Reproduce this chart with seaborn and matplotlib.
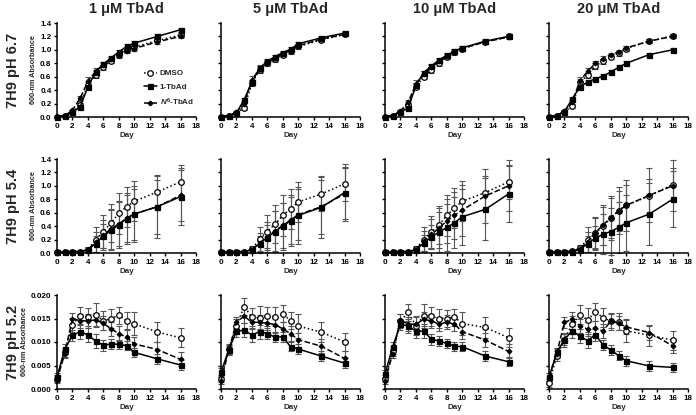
import numpy as np
import pandas as pd
import matplotlib
matplotlib.use("Agg")
import matplotlib.pyplot as plt
import seaborn as sns

# ---------------- data ----------------
days = [0, 1, 2, 3, 4, 5, 6, 7, 8, 9, 10, 13, 16]
concentrations = ["1 μM TbAd", "5 μM TbAd", "10 μM TbAd", "20 μM TbAd"]
media = ["7H9 pH 6.7", "7H9 pH 5.4", "7H9 pH 5.2"]
series_names = ["DMSO", "1-TbAd", "$N^{6}$-TbAd"]

# pH 6.7  (one list per concentration)
dmso_ph67 = [
    [0, 0.02, 0.07, 0.18, 0.48, 0.62, 0.74, 0.84, 0.92, 1.00, 1.04, 1.14, 1.22],
    [0, 0.02, 0.06, 0.14, 0.50, 0.70, 0.80, 0.86, 0.93, 0.98, 1.05, 1.15, 1.23],
    [0, 0.02, 0.08, 0.18, 0.45, 0.60, 0.70, 0.80, 0.90, 0.97, 1.02, 1.12, 1.20],
    [0, 0.02, 0.08, 0.16, 0.52, 0.62, 0.76, 0.83, 0.90, 0.95, 1.02, 1.13, 1.21],
]
tbad_ph67 = [
    [0, 0.02, 0.07, 0.15, 0.45, 0.67, 0.79, 0.88, 0.97, 1.05, 1.10, 1.20, 1.30],
    [0, 0.02, 0.06, 0.26, 0.52, 0.73, 0.83, 0.90, 0.96, 1.01, 1.09, 1.18, 1.25],
    [0, 0.02, 0.08, 0.13, 0.47, 0.66, 0.76, 0.85, 0.92, 0.98, 1.03, 1.13, 1.20],
    [0, 0.02, 0.08, 0.27, 0.45, 0.52, 0.57, 0.61, 0.67, 0.74, 0.80, 0.93, 1.00],
]
n6_ph67 = [
    [0, 0.02, 0.10, 0.28, 0.53, 0.68, 0.78, 0.86, 0.93, 0.98, 1.02, 1.12, 1.20],
    [0, 0.02, 0.07, 0.20, 0.55, 0.72, 0.81, 0.88, 0.94, 0.99, 1.06, 1.16, 1.23],
    [0, 0.02, 0.09, 0.22, 0.49, 0.64, 0.74, 0.83, 0.91, 0.97, 1.02, 1.12, 1.19],
    [0, 0.02, 0.09, 0.22, 0.54, 0.68, 0.80, 0.87, 0.93, 0.97, 1.03, 1.13, 1.20],
]

# pH 5.4
dmso_ph54 = [
    [0.01, 0.01, 0.02, 0.02, 0.05, 0.20, 0.32, 0.45, 0.59, 0.69, 0.77, 0.91, 1.06],
    [0.01, 0.01, 0.02, 0.02, 0.06, 0.21, 0.32, 0.43, 0.56, 0.66, 0.76, 0.88, 1.03],
    [0.01, 0.01, 0.02, 0.02, 0.06, 0.20, 0.31, 0.42, 0.56, 0.67, 0.77, 0.90, 1.06],
    [0.01, 0.01, 0.02, 0.03, 0.08, 0.20, 0.30, 0.40, 0.52, 0.63, 0.71, 0.85, 1.02],
]
tbad_ph54 = [
    [0.01, 0.01, 0.02, 0.02, 0.05, 0.14, 0.25, 0.34, 0.42, 0.51, 0.58, 0.69, 0.84],
    [0.01, 0.01, 0.02, 0.02, 0.05, 0.14, 0.23, 0.32, 0.40, 0.48, 0.56, 0.68, 0.90],
    [0.01, 0.01, 0.02, 0.02, 0.04, 0.15, 0.24, 0.31, 0.38, 0.45, 0.54, 0.65, 0.88],
    [0.01, 0.01, 0.02, 0.02, 0.05, 0.14, 0.22, 0.28, 0.32, 0.38, 0.45, 0.58, 0.80],
]
n6_ph54 = [
    [0.01, 0.01, 0.02, 0.02, 0.05, 0.16, 0.27, 0.36, 0.43, 0.52, 0.58, 0.69, 0.86],
    [0.01, 0.01, 0.02, 0.02, 0.05, 0.15, 0.24, 0.33, 0.41, 0.49, 0.57, 0.69, 0.88],
    [0.01, 0.01, 0.02, 0.02, 0.05, 0.18, 0.28, 0.37, 0.48, 0.56, 0.64, 0.85, 1.00],
    [0.01, 0.01, 0.02, 0.03, 0.06, 0.17, 0.30, 0.42, 0.52, 0.63, 0.71, 0.86, 1.00],
]

# pH 5.2
dmso_ph52 = [
    [0.0022, 0.0078, 0.0137, 0.0156, 0.0153, 0.0158, 0.0145, 0.0150, 0.0157, 0.0145, 0.0139, 0.0121, 0.0109],
    [0.0022, 0.0085, 0.0135, 0.0175, 0.0153, 0.0151, 0.0155, 0.0154, 0.0160, 0.0145, 0.0134, 0.0121, 0.0100],
    [0.0022, 0.0080, 0.0145, 0.0163, 0.0135, 0.0155, 0.0155, 0.0150, 0.0150, 0.0153, 0.0139, 0.0131, 0.0109],
    [0.0013, 0.0070, 0.0105, 0.0138, 0.0158, 0.0147, 0.0164, 0.0152, 0.0144, 0.0143, 0.0124, 0.0114, 0.0104],
]
tbad_ph52 = [
    [0.0025, 0.0085, 0.0114, 0.0122, 0.0115, 0.0102, 0.0093, 0.0096, 0.0095, 0.0092, 0.0078, 0.0064, 0.0051],
    [0.0036, 0.0083, 0.0123, 0.0125, 0.0115, 0.0122, 0.0118, 0.0110, 0.0111, 0.0090, 0.0085, 0.0070, 0.0055],
    [0.0032, 0.0090, 0.0138, 0.0134, 0.0123, 0.0123, 0.0106, 0.0102, 0.0097, 0.0091, 0.0090, 0.0070, 0.0058],
    [0.0025, 0.0078, 0.0105, 0.0124, 0.0112, 0.0103, 0.0115, 0.0094, 0.0083, 0.0071, 0.0060, 0.0049, 0.0046],
]
n6_ph52 = [
    [0.0020, 0.0075, 0.0150, 0.0145, 0.0145, 0.0147, 0.0140, 0.0128, 0.0118, 0.0110, 0.0096, 0.0084, 0.0063],
    [0.0018, 0.0082, 0.0142, 0.0155, 0.0142, 0.0142, 0.0140, 0.0137, 0.0128, 0.0118, 0.0105, 0.0091, 0.0065],
    [0.0018, 0.0075, 0.0147, 0.0138, 0.0138, 0.0148, 0.0145, 0.0138, 0.0142, 0.0138, 0.0122, 0.0104, 0.0080],
    [0.0025, 0.0075, 0.0142, 0.0148, 0.0135, 0.0127, 0.0130, 0.0123, 0.0145, 0.0140, 0.0132, 0.0120, 0.0092],
]

# error bars (SD), one list per medium and series
err_dmso_ph67 = [0, 0.005, 0.01, 0.03, 0.04, 0.04, 0.04, 0.04, 0.04, 0.04, 0.04, 0.03, 0.03]
err_tbad_ph67 = [0, 0.005, 0.01, 0.02, 0.03, 0.03, 0.03, 0.03, 0.03, 0.03, 0.03, 0.03, 0.03]
err_n6_ph67 = [0, 0.005, 0.01, 0.04, 0.06, 0.05, 0.04, 0.04, 0.03, 0.03, 0.03, 0.03, 0.03]
err_dmso_ph54 = [0.005, 0.005, 0.005, 0.01, 0.04, 0.18, 0.24, 0.28, 0.30, 0.30, 0.30, 0.25, 0.25]
err_tbad_ph54 = [0.005, 0.005, 0.005, 0.01, 0.03, 0.12, 0.18, 0.30, 0.35, 0.38, 0.42, 0.46, 0.42]
err_n6_ph54 = [0.005, 0.005, 0.005, 0.01, 0.04, 0.15, 0.22, 0.30, 0.33, 0.35, 0.38, 0.40, 0.38]
err_dmso_ph52 = [0.0008, 0.001, 0.0015, 0.0018, 0.002, 0.0025, 0.002, 0.002, 0.0018, 0.0018, 0.0025, 0.0022, 0.002]
err_tbad_ph52 = [0.0008, 0.001, 0.0012, 0.0015, 0.0015, 0.0015, 0.0012, 0.001, 0.001, 0.001, 0.001, 0.001, 0.001]
err_n6_ph52 = [0.0008, 0.001, 0.0012, 0.0015, 0.0015, 0.0015, 0.0015, 0.0015, 0.0015, 0.0015, 0.0015, 0.0015, 0.0015]

x_ticks = list(range(0, 19, 2))
y_ticks_main = [0.0, 0.2, 0.4, 0.6, 0.8, 1.0, 1.2, 1.4]
y_ticks_low = [0.000, 0.005, 0.010, 0.015, 0.020]

# ---------------- style ----------------
sns.set_theme(style="ticks")
plt.rcParams["font.family"] = ["Liberation Sans", "DejaVu Sans"]
plt.rcParams["font.weight"] = "bold"
plt.rcParams["mathtext.fontset"] = "custom"
plt.rcParams["mathtext.rm"] = "Liberation Sans:bold"
plt.rcParams["mathtext.it"] = "Liberation Sans:italic:bold"
plt.rcParams["mathtext.bf"] = "Liberation Sans:bold"

W, H = 696, 415
fig = plt.figure(figsize=(W / 100, H / 100), dpi=100)

col_left_px = [57, 221, 385, 549]
ax_w_px = 139
row_top_px = [23, 159, 295]
ax_h_px = 94

rows_data = [
    (dmso_ph67, tbad_ph67, n6_ph67, err_dmso_ph67, err_tbad_ph67, err_n6_ph67),
    (dmso_ph54, tbad_ph54, n6_ph54, err_dmso_ph54, err_tbad_ph54, err_n6_ph54),
    (dmso_ph52, tbad_ph52, n6_ph52, err_dmso_ph52, err_tbad_ph52, err_n6_ph52),
]

series_style = [
    dict(marker="o", markerfacecolor="white", markersize=4.0, linestyle=":"),
    dict(marker="s", markerfacecolor="black", markersize=3.6, linestyle="-"),
    dict(marker="D", markerfacecolor="black", markersize=2.4, linestyle="--"),
]

for r in range(3):
    dmso, tbad, n6, e_d, e_t, e_n = rows_data[r]
    for c in range(4):
        left = col_left_px[c] / W
        bottom = 1 - (row_top_px[r] + ax_h_px) / H
        ax = fig.add_axes([left, bottom, ax_w_px / W, ax_h_px / H])
        vals = [dmso[c], tbad[c], n6[c]]
        errs = [e_d, e_t, e_n]
        for s in range(3):
            df = pd.DataFrame({"Day": days, "Absorbance": vals[s]})
            ax.errorbar(df["Day"], df["Absorbance"], yerr=errs[s], fmt="none",
                        ecolor="#555555", elinewidth=0.8, capsize=2.0,
                        capthick=0.8, zorder=1, clip_on=False)
            st = series_style[s]
            sns.lineplot(data=df, x="Day", y="Absorbance", ax=ax, color="black",
                         marker=st["marker"], markerfacecolor=st["markerfacecolor"],
                         markeredgecolor="black", markeredgewidth=0.9,
                         markersize=st["markersize"], linestyle=st["linestyle"],
                         linewidth=1.1, label=series_names[s], legend=False,
                         errorbar=None, zorder=3, clip_on=False)
        ax.set_xlim(0, 18)
        ax.set_xticks(x_ticks)
        if r < 2:
            ax.set_ylim(0, 1.4)
            ax.set_yticks(y_ticks_main)
            ax.yaxis.set_major_formatter(matplotlib.ticker.FormatStrFormatter("%.1f"))
        else:
            ax.set_ylim(0, 0.020)
            ax.set_yticks(y_ticks_low)
            ax.yaxis.set_major_formatter(matplotlib.ticker.FormatStrFormatter("%.3f"))
        if c > 0:
            ax.set_yticklabels([])
            ax.set_ylabel("")
        else:
            ax.set_ylabel("600-nm Absorbance", fontsize=5.2, fontweight="bold", labelpad=2)
        ax.set_xlabel("Day", fontsize=5.8, fontweight="bold", labelpad=2)
        for sp in ["top", "right"]:
            ax.spines[sp].set_visible(False)
        for sp in ["left", "bottom"]:
            ax.spines[sp].set_linewidth(1.1)
            ax.spines[sp].set_color("black")
        ax.tick_params(axis="both", direction="out", length=2.5, width=1.0,
                       labelsize=5.8, pad=1.5, colors="black")
        for lab in ax.get_xticklabels() + ax.get_yticklabels():
            lab.set_fontweight("bold")
        ax.grid(False)
        ax.set_facecolor("white")

        if r == 0:
            ax.set_title(concentrations[c], fontsize=10.5, fontweight="bold", pad=7)
        if c == 0:
            yc = 1 - (row_top_px[r] + ax_h_px / 2) / H
            fig.text(13 / W, yc, media[r], rotation=90, ha="center", va="center",
                     fontsize=10.5, fontweight="bold")
        if r == 0 and c == 0:
            handles, labels = ax.get_legend_handles_labels()
            hl = [(h, l) for h, l in zip(handles, labels) if l in series_names]
            ax.legend([h for h, _ in hl], [l for _, l in hl], loc="lower right",
                      bbox_to_anchor=(1.02, 0.04), frameon=False, fontsize=5.8,
                      handlelength=1.6, handletextpad=0.4, labelspacing=0.75,
                      borderaxespad=0.2)

fig.savefig("out.png", dpi=100, facecolor="white")
